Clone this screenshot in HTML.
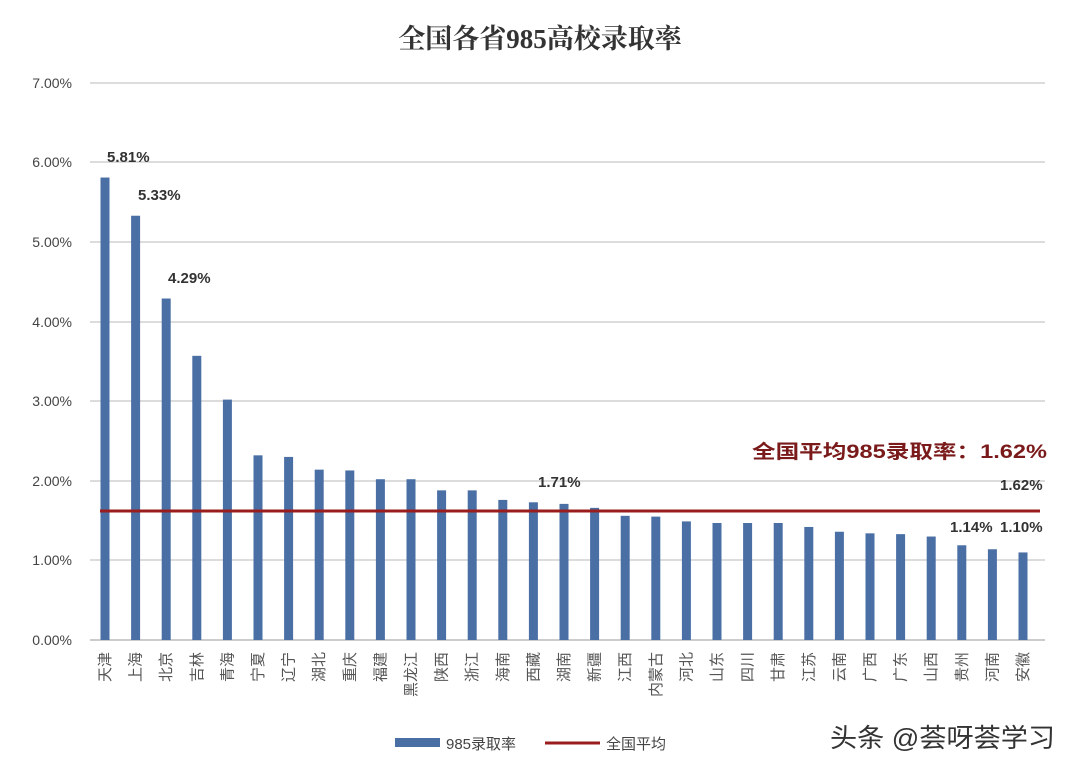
<!DOCTYPE html>
<html><head><meta charset="utf-8"><style>
body{margin:0;background:#fff}
svg{display:block}
text{font-family:"Liberation Sans","Noto Sans CJK SC",sans-serif}
</style></head><body>
<svg width="1080" height="771" viewBox="0 0 1080 771" xmlns="http://www.w3.org/2000/svg">
<rect width="1080" height="771" fill="#fff"/>
<text x="540" y="48" text-anchor="middle" font-size="27" font-weight="bold" fill="#333" style="font-family:'Liberation Serif','Noto Serif CJK SC',serif">全国各省985高校录取率</text>
<g stroke="#d0d0d0" stroke-width="1.5">
<line x1="90" x2="1045" y1="83" y2="83"/><line x1="90" x2="1045" y1="162" y2="162"/>
<line x1="90" x2="1045" y1="242" y2="242"/><line x1="90" x2="1045" y1="322" y2="322"/>
<line x1="90" x2="1045" y1="401" y2="401"/><line x1="90" x2="1045" y1="481" y2="481"/>
<line x1="90" x2="1045" y1="560" y2="560"/><line x1="90" x2="1045" y1="640" y2="640" stroke="#bbb"/>
</g>
<g font-size="14" fill="#444" text-anchor="end">
<text x="72" y="88">7.00%</text><text x="72" y="167">6.00%</text><text x="72" y="247">5.00%</text>
<text x="72" y="327">4.00%</text><text x="72" y="406">3.00%</text><text x="72" y="486">2.00%</text>
<text x="72" y="565">1.00%</text><text x="72" y="645">0.00%</text>
</g>
<g id="bars" fill="#4a6fa5"></g>
<g id="labs" font-size="15" fill="#555"></g>
<line x1="100" x2="1040" y1="511" y2="511" stroke="#9b1c1c" stroke-width="3"/>
<g font-size="15" font-weight="bold" fill="#333">
<text x="107" y="162">5.81%</text><text x="138" y="200">5.33%</text><text x="168" y="283">4.29%</text>
<text x="538" y="487">1.71%</text><text x="950" y="532">1.14%</text><text x="1000" y="532">1.10%</text>
<text x="1000" y="490">1.62%</text>
</g>
<text x="752" y="458" font-size="19" font-weight="bold" fill="#7a1a1a" textLength="295" lengthAdjust="spacingAndGlyphs">全国平均985录取率：1.62%</text>
<rect x="395" y="738" width="45" height="9" fill="#4a6fa5"/>
<text x="446" y="749" font-size="15" fill="#444">985录取率</text>
<line x1="545" x2="600" y1="743" y2="743" stroke="#9b1c1c" stroke-width="3"/>
<text x="606" y="749" font-size="15" fill="#444">全国平均</text>
<text x="830" y="747" font-size="26" fill="#333" textLength="225" lengthAdjust="spacingAndGlyphs">头条 @荟呀荟学习</text>
</svg>
<script>
var v=[5.81,5.33,4.29,3.57,3.02,2.32,2.30,2.14,2.13,2.02,2.02,1.88,1.88,1.76,1.73,1.71,1.66,1.56,1.55,1.49,1.47,1.47,1.47,1.42,1.36,1.34,1.33,1.30,1.19,1.14,1.10];
var n=["天津","上海","北京","吉林","青海","宁夏","辽宁","湖北","重庆","福建","黑龙江","陕西","浙江","海南","西藏","湖南","新疆","江西","内蒙古","河北","山东","四川","甘肃","江苏","云南","广西","广东","山西","贵州","河南","安徽"];
var b=document.getElementById('bars'),l=document.getElementById('labs'),ns="http://www.w3.org/2000/svg";
for(var i=0;i<31;i++){var x=105+i*30.6,h=v[i]*79.6;
var r=document.createElementNS(ns,'rect');r.setAttribute('x',x-4.5);r.setAttribute('y',640-h);r.setAttribute('width',9);r.setAttribute('height',h);b.appendChild(r);
var t=document.createElementNS(ns,'text');t.setAttribute('text-anchor','end');t.setAttribute('transform','translate('+(x+5)+',652) rotate(-90)');t.textContent=n[i];l.appendChild(t);}
</script>
</body></html>
